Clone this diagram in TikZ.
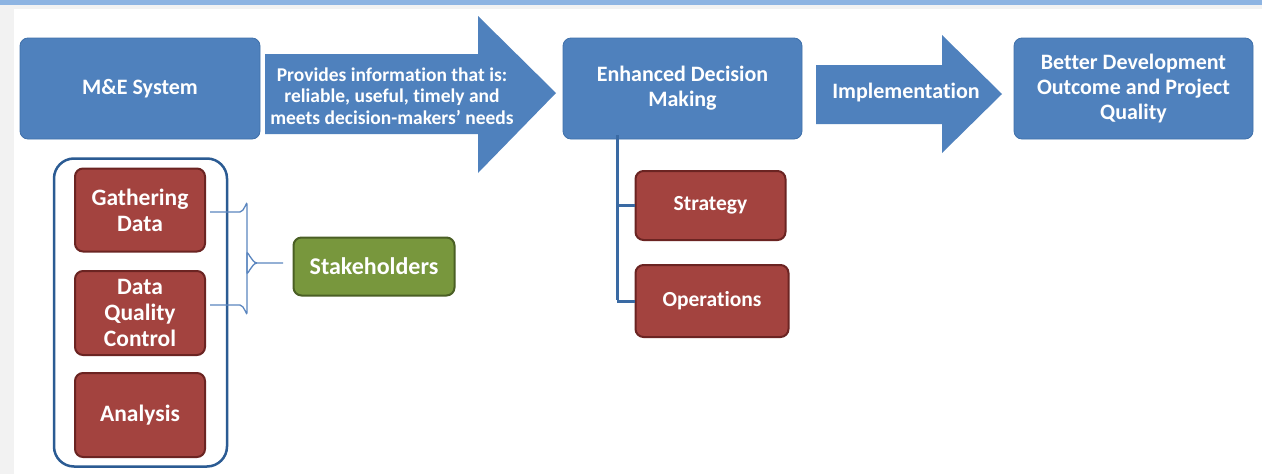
\documentclass[tikz,border=0pt]{standalone}
\usepackage{fontspec}
\setmainfont{Carlito}[Ligatures=NoCommon]
\definecolor{boxblue}{HTML}{4F81BD}
\definecolor{boxblueline}{HTML}{3F70AA}
\definecolor{boxred}{HTML}{A3433F}
\definecolor{boxredline}{HTML}{6B2422}
\definecolor{boxgreen}{HTML}{78973D}
\definecolor{boxgreenline}{HTML}{4A5F24}
\definecolor{frameblue}{HTML}{2B5B93}
\definecolor{linkblue}{HTML}{3A6AA3}
\definecolor{bracelblue}{HTML}{5B86BF}
\definecolor{topband}{HTML}{8DB4E2}
\definecolor{sidegrey}{HTML}{F2F2F2}
\tikzset{
  base/.style={rectangle, rounded corners=8pt, inner sep=0pt, align=center,
    text=white, font=\bfseries},
  bluebox/.style={base, fill=boxblue, draw=boxblueline, line width=0.8pt,
    font=\bfseries\fontsize{22}{25}\selectfont},
  redbox/.style={base, fill=boxred, draw=boxredline, line width=2pt,
    font=\bfseries\fontsize{23.5}{26}\selectfont},
  smallred/.style={redbox, font=\bfseries\fontsize{21.5}{26}\selectfont},
  greenbox/.style={base, fill=boxgreen, draw=boxgreenline, line width=2pt,
    font=\bfseries\fontsize{24}{26}\selectfont},
  bigarrow/.style={fill=boxblue, draw=none},
  arrowtext/.style={inner sep=0pt, align=center, text=white},
  link/.style={draw=linkblue, line width=3pt},
  bracelink/.style={draw=bracelblue, line width=1.3pt}
}
\begin{document}
\begin{tikzpicture}[x=1pt, y=-1pt]
\useasboundingbox (0,0) rectangle (1262,474);
% background
\fill[white] (0,0) rectangle (1262,474);
\fill[sidegrey] (0,0) rectangle (14,474);
\fill[sidegrey] (0,0) rectangle (1262,9);
\fill[topband] (0,0) rectangle (1262,4.5);

% top row boxes
\node[bluebox, minimum width=240, minimum height=101] (me) at (140,88.5) {M\&E System};
\node[bluebox, minimum width=239, minimum height=101] (edm) at (682.5,88.5) {Enhanced Decision\\Making};
\node[bluebox, minimum width=239, minimum height=101] (bdo) at (1133.5,88.5) {Better Development\\Outcome and Project\\Quality};

% big arrows
\fill[bigarrow] (265,54) -- (478,54) -- (478,16) -- (556,93) -- (478,173) -- (478,134) -- (265,134) -- cycle;
\node[arrowtext, font=\bfseries\fontsize{19.5}{21.5}\selectfont] (info) at (392,96)
  {Provides information that is:\\reliable, useful, timely and\\meets decision-makers' needs};
\fill[bigarrow] (816,65) -- (942,65) -- (942,35) -- (1002,94) -- (942,153) -- (942,124) -- (816,124) -- cycle;
\node[arrowtext, font=\bfseries\fontsize{22}{24}\selectfont] (impl) at (906,93) {Implementation};

% left container
\node[draw=frameblue, line width=2.5pt, rounded corners=20pt, fill=white,
      minimum width=173, minimum height=308, inner sep=0pt] (frame) at (140.5,312.5) {};
\node[redbox, minimum width=130, minimum height=83] (gd) at (140,210) {Gathering\\Data};
\node[redbox, minimum width=130, minimum height=84] (dqc) at (140,313) {Data\\Quality\\Control};
\node[redbox, minimum width=130, minimum height=84] (an) at (140,415) {Analysis};
\node[greenbox, minimum width=161, minimum height=58] (sh) at (374,266.5) {Stakeholders};

% brace
\coordinate (bx) at (247,0);
\coordinate (tip) at (257,263);
\coordinate (bend) at (283,263);
\draw[bracelink] ([xshift=4pt,yshift=-2pt]gd.east) -- ([xshift=-7pt,yshift=-2pt]bx |- gd.east) to[out=0,in=90] ([yshift=6pt]bx |- gd.east)
  -- ([yshift=-9pt]bx |- tip) to[out=-90,in=180] (tip) -- (bend);
\draw[bracelink] ([xshift=4pt,yshift=8pt]dqc.east) -- ([xshift=-7pt,yshift=8pt]bx |- dqc.east) to[out=0,in=-90] ([yshift=0pt]bx |- dqc.east)
  -- ([yshift=9pt]bx |- tip) to[out=90,in=180] (tip);

% right branches
\node[smallred, minimum width=150, minimum height=69] (st) at (710.5,205.5) {Strategy};
\node[smallred, minimum width=153, minimum height=72] (op) at (712,301) {Operations};
\coordinate (vx) at (617,0);
\draw[link] ([yshift=4pt]vx |- edm.south) -- ([yshift=1.5pt]vx |- op.west);
\draw[link] (vx |- st.west) -- (st.west);
\draw[link] (vx |- op.west) -- (op.west);
\end{tikzpicture}
\end{document}
